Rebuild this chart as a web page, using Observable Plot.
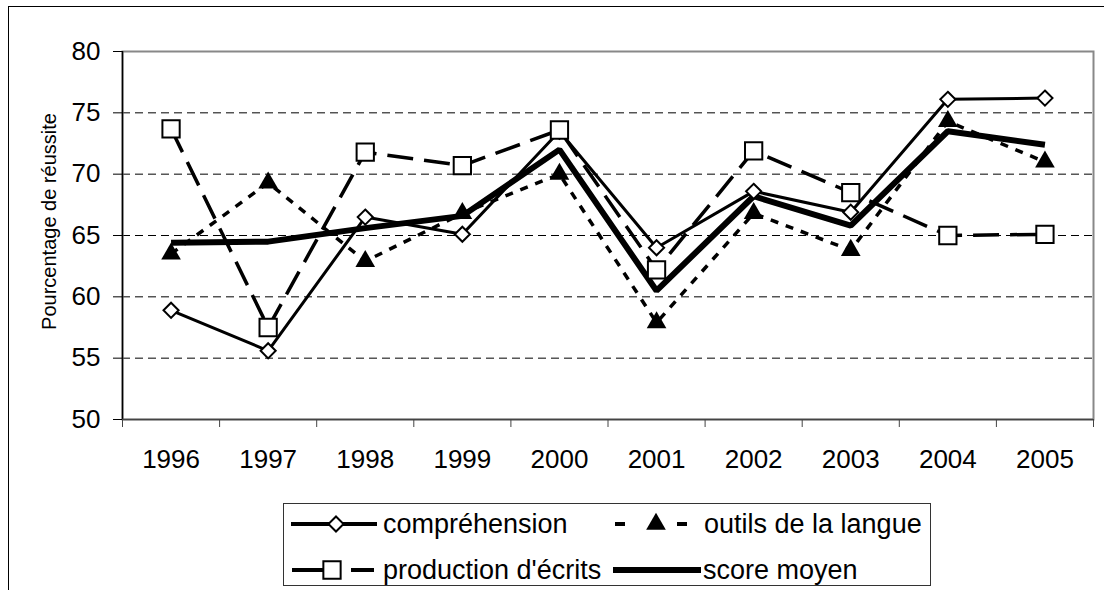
<!DOCTYPE html>
<html>
<head>
<meta charset="utf-8">
<script src="https://cdn.jsdelivr.net/npm/d3@7"></script>
<script src="https://cdn.jsdelivr.net/npm/@observablehq/plot@0.6"></script>
<style>
  html, body { margin: 0; padding: 0; background: #fff; }
  #wrap { position: relative; width: 1104px; height: 590px; overflow: hidden; font-family: "Liberation Sans", Arial, sans-serif; }
  #outer { position: absolute; left: 8px; top: 6px; width: 1200px; height: 700px; border-left: 1.5px solid #000; border-top: 1.5px solid #000; box-sizing: border-box; }
  #chart { position: absolute; left: 0; top: 0; }
  #legend { position: absolute; left: 283px; top: 503px; width: 648px; height: 83px; border: 1.5px solid #333; box-sizing: border-box; background: #fff; }
  .item { position: absolute; display: flex; align-items: center; height: 40px; font-size: 27px; color: #000; white-space: nowrap; }
  .item svg { display: block; flex: none; }
</style>
</head>
<body>
<div id="wrap">
  <div id="outer"></div>
  <div id="chart"></div>
  <div id="legend"></div>
</div>
<script>
// ---- data ----
const years = [1996, 1997, 1998, 1999, 2000, 2001, 2002, 2003, 2004, 2005];
const comprehension = [58.9, 55.6, 66.5, 65.1, 73.5, 64.0, 68.6, 66.9, 76.1, 76.2];
const outils = [63.5, 69.3, 62.9, 66.8, 70.0, 57.9, 66.8, 63.8, 74.3, 71.0];
const production = [73.7, 57.5, 71.8, 70.7, 73.6, 62.2, 71.9, 68.5, 65.0, 65.1];
const scoreMoyen = [64.4, 64.5, 65.6, 66.6, 72.0, 60.5, 68.2, 65.8, 73.5, 72.4];
const seriesNames = ["compréhension", "outils de la langue", "production d'écrits", "score moyen"];
const yTicks = [50, 55, 60, 65, 70, 75, 80];
const yLabel = "Pourcentage de réussite";

// ---- build table ----
const seriesValues = [comprehension, outils, production, scoreMoyen];
const rows = [];
seriesNames.forEach((name, i) => years.forEach((yr, j) => rows.push({series: name, year: yr, value: seriesValues[i][j]})));
const of = name => rows.filter(d => d.series === name);

const bounds = [...years.map(y => y - 0.5), years[years.length - 1] + 0.5];
const gridTicks = yTicks.slice(1, -1);

const styles = {
  "compréhension": {stroke: "#000", strokeWidth: 3, dash: null, symbol: "diamond2", r: 6.8, fill: "#fff", mstroke: "#000"},
  "outils de la langue": {stroke: "#000", strokeWidth: 3.5, dash: "8,8", symbol: "triangle", r: 7.3, fill: "#000", mstroke: "none"},
  "production d'écrits": {stroke: "#000", strokeWidth: 3.5, dash: "26,11", symbol: "square2", r: 11, fill: "#fff", mstroke: "#000"},
  "score moyen": {stroke: "#000", strokeWidth: 6, dash: null, symbol: null}
};

const lineMarks = seriesNames.map(name => {
  const s = styles[name];
  return Plot.line(of(name), {x: "year", y: "value", stroke: s.stroke, strokeWidth: s.strokeWidth, strokeDasharray: s.dash, strokeLinejoin: "miter", strokeLinecap: "butt"});
});
const dotMarks = seriesNames.filter(n => styles[n].symbol).map(name => {
  const s = styles[name];
  return Plot.dot(of(name), {x: "year", y: "value", symbol: s.symbol, r: s.r, fill: s.fill, stroke: s.mstroke, strokeWidth: 2});
});

const chart = Plot.plot({
  width: 1104,
  height: 590,
  marginLeft: 122,
  marginRight: 11,
  marginTop: 51,
  marginBottom: 171,
  x: {domain: [bounds[0], bounds[bounds.length - 1]]},
  y: {domain: [yTicks[0], yTicks[yTicks.length - 1]]},
  style: {fontFamily: "'Liberation Sans', Arial, sans-serif", fontSize: "26px", background: "transparent", color: "#000"},
  marks: [
    Plot.gridY(gridTicks, {stroke: "#000", strokeOpacity: 1, strokeWidth: 1, strokeDasharray: "8,5"}),
    Plot.frame({stroke: "#888", strokeWidth: 2}),
    Plot.ruleX([bounds[0]], {stroke: "#000", strokeWidth: 1.5}),
    Plot.ruleY([yTicks[0]], {stroke: "#444", strokeWidth: 1.5}),
    Plot.axisY({ticks: yTicks, tickSize: 9, tickPadding: 13, label: null, stroke: "#000", fontSize: 26}),
    Plot.axisX({ticks: years, tickSize: 0, tickPadding: 30, tickFormat: d => String(d), label: null, fontSize: 26}),
    Plot.axisX({ticks: bounds, tickSize: 8, tickFormat: () => "", label: null, stroke: "#444"}),
    ...lineMarks,
    ...dotMarks,
    Plot.text([yLabel], {frameAnchor: "left", textAnchor: "middle", rotate: -90, dx: -73, dy: -14, fontSize: 20, text: d => d, fill: "#000"})
  ]
});
document.getElementById("chart").appendChild(chart);

// ---- legend ----
const legend = document.getElementById("legend");
const symMap = {diamond2: d3.symbolDiamond2, triangle: d3.symbolTriangle, square2: d3.symbolSquare2};
const swatch = {
  "compréhension": {left: 7, top: 0, w: 86, segs: [[0, 86]], mark: 45, gap: 6},
  "outils de la langue": {left: 329, top: 0, w: 88, segs: [[2, 12], [64, 74]], mark: 43, gap: 3},
  "production d'écrits": {left: 8, top: 46, w: 86, segs: [[0, 34], [59, 82]], mark: 40, gap: 5},
  "score moyen": {left: 329, top: 46, w: 88, segs: [[0, 88]], mark: null, gap: 2}
};
seriesNames.forEach(name => {
  const s = styles[name], g = swatch[name];
  const item = document.createElement("div");
  item.className = "item";
  item.style.left = g.left + "px";
  item.style.top = g.top + "px";
  const h = 40;
  const svg = d3.create("svg").attr("width", g.w).attr("height", h);
  g.segs.forEach(([a, b]) => svg.append("line").attr("x1", a).attr("x2", b).attr("y1", h / 2).attr("y2", h / 2)
    .attr("stroke", s.stroke).attr("stroke-width", name === "score moyen" ? 6 : 4).attr("stroke-linecap", name === "score moyen" ? "round" : "butt"));
  if (s.symbol) {
    svg.append("path").attr("transform", `translate(${g.mark},${h / 2})`)
      .attr("d", d3.symbol(symMap[s.symbol], Math.PI * s.r * s.r)())
      .attr("fill", s.fill).attr("stroke", s.mstroke).attr("stroke-width", 2);
  }
  item.appendChild(svg.node());
  const label = document.createElement("span");
  label.textContent = name;
  label.style.marginLeft = g.gap + "px";
  item.appendChild(label);
  legend.appendChild(item);
});
</script>
</body>
</html>
